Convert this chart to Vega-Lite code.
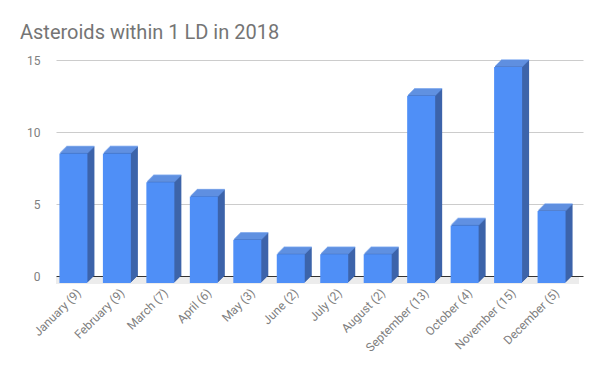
{
  "$schema": "https://vega.github.io/schema/vega-lite/v6.json",
  "width": 527,
  "height": 216,
  "autosize": "none",
  "padding": {"left": 56, "top": 60, "right": 20, "bottom": 104},
  "title": {"text": "Asteroids within 1 LD in 2018", "anchor": "start", "frame": "group", "dx": -36, "offset": 11, "fontSize": 20, "font": "Roboto", "fontWeight": "normal", "color": "#757575"},
  "config": {"view": {"stroke": null}, "font": "Roboto"},
  "data": {"values": [
    {"label": "January (9)", "value": 9},
    {"label": "February (9)", "value": 9},
    {"label": "March (7)", "value": 7},
    {"label": "April (6)", "value": 6},
    {"label": "May (3)", "value": 3},
    {"label": "June (2)", "value": 2},
    {"label": "July (2)", "value": 2},
    {"label": "August (2)", "value": 2},
    {"label": "September (13)", "value": 13},
    {"label": "October (4)", "value": 4},
    {"label": "November (15)", "value": 15},
    {"label": "December (5)", "value": 5}
  ]},
  "encoding": {
    "x": {"field": "label", "type": "nominal", "sort": null, "title": null,
      "scale": {"paddingInner": 0.356, "paddingOuter": 0.24},
      "axis": {"labelAngle": -45, "labelAlign": "right", "labelBaseline": "top", "labelFontSize": 12, "labelColor": "#808080", "labelPadding": 11, "labelOffset": -5, "ticks": false, "domain": false, "grid": false}},
    "y": {"field": "value", "type": "quantitative", "title": null,
      "scale": {"domain": [0, 15], "nice": false},
      "axis": {"values": [0, 5, 10, 15], "labelFontSize": 12, "labelColor": "#808080", "labelPadding": 16, "ticks": false, "domain": false,
        "gridColor": {"condition": {"test": "datum.value === 0", "value": "#333333"}, "value": "#cccccc"}}}
  },
  "layer": [
    {"mark": {"type": "rule", "color": "#ececec", "strokeWidth": 6, "yOffset": 4.5, "y2Offset": 4.5, "xOffset": -4, "x2Offset": -4}, "encoding": {"y": {"datum": 0}, "x": null}},
    {"mark": {"type": "bar", "color": "#3d64aa", "xOffset": 0, "x2Offset": 0, "yOffset": 0, "y2Offset": 0}},
    {"mark": {"type": "bar", "color": "#3d64aa", "xOffset": -1, "x2Offset": -1, "yOffset": 1, "y2Offset": 1}},
    {"mark": {"type": "bar", "color": "#3d64aa", "xOffset": -2, "x2Offset": -2, "yOffset": 2, "y2Offset": 2}},
    {"mark": {"type": "bar", "color": "#3d64aa", "xOffset": -3, "x2Offset": -3, "yOffset": 3, "y2Offset": 3}},
    {"mark": {"type": "bar", "color": "#3d64aa", "xOffset": -4, "x2Offset": -4, "yOffset": 4, "y2Offset": 4}},
    {"mark": {"type": "bar", "color": "#3d64aa", "xOffset": -5, "x2Offset": -5, "yOffset": 5, "y2Offset": 5}},
    {"mark": {"type": "bar", "color": "#3d64aa", "xOffset": -6, "x2Offset": -6, "yOffset": 6, "y2Offset": 6}},
    {"mark": {"type": "tick", "color": "#6a9cf0", "size": 28, "thickness": 1.5, "xOffset": 0, "yOffset": 0}},
    {"mark": {"type": "tick", "color": "#6a9cf0", "size": 28, "thickness": 1.5, "xOffset": -1, "yOffset": 1}},
    {"mark": {"type": "tick", "color": "#6a9cf0", "size": 28, "thickness": 1.5, "xOffset": -2, "yOffset": 2}},
    {"mark": {"type": "tick", "color": "#6a9cf0", "size": 28, "thickness": 1.5, "xOffset": -3, "yOffset": 3}},
    {"mark": {"type": "tick", "color": "#6a9cf0", "size": 28, "thickness": 1.5, "xOffset": -4, "yOffset": 4}},
    {"mark": {"type": "tick", "color": "#6a9cf0", "size": 28, "thickness": 1.5, "xOffset": -5, "yOffset": 5}},
    {"mark": {"type": "tick", "color": "#6a9cf0", "size": 28, "thickness": 1.5, "xOffset": -6, "yOffset": 6}},
    {"mark": {"type": "bar", "color": "#4f8ff7", "xOffset": -7, "x2Offset": -7, "yOffset": 7, "y2Offset": 7}}
  ]
}
